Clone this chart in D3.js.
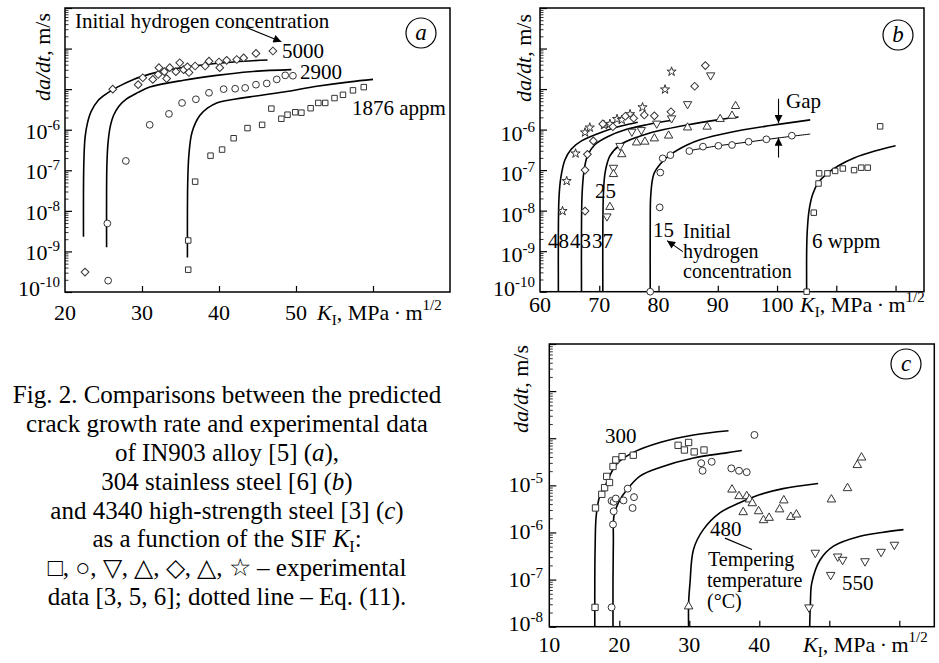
<!DOCTYPE html>
<html>
<head>
<meta charset="utf-8"/>
<title>Crack growth rate vs K_I</title>
<script src="https://d3js.org/d3.v7.min.js"></script>
<style>
body { margin:0; background:#fff; }
svg { font-family: "Liberation Serif", "Times New Roman", serif; }
</style>
</head>
<body>
<div id="fig"></div>
<script>
// every point: [K_I in MPa*m^1/2, log10 of da/dt in m/s]

// panel a - IN903, initial hydrogen concentration (appm)
var a5000Pts = [[22.6,-9.51],[26.2,-5.0],[29.5,-4.89],[30.1,-4.72],[31.4,-4.76],[32.1,-4.64],[32.2,-4.47],[32.9,-4.57],[33.2,-4.74],[33.6,-4.47],[34.4,-4.57],[34.9,-4.35],[35.4,-4.52],[35.9,-4.45],[36.1,-4.59],[36.9,-4.43],[38.2,-4.43],[38.7,-4.31],[40.0,-4.33],[40.1,-4.47],[41.0,-4.29],[42.3,-4.27],[43.2,-4.23],[44.8,-4.12],[47.0,-4.06]];
var a2900Pts = [[25.5,-8.31],[25.6,-9.72],[27.9,-6.77],[31.0,-5.88],[33.5,-5.61],[35.2,-5.34],[37.0,-5.25],[38.7,-5.09],[40.6,-5.00],[42.1,-4.99],[43.4,-4.97],[44.8,-4.89],[46.2,-4.86],[47.5,-4.76],[48.6,-4.66],[49.6,-4.67]];
var a1876Pts = [[36.0,-8.73],[36.0,-9.45],[36.9,-7.28],[38.9,-6.64],[40.4,-6.49],[41.9,-6.21],[43.7,-5.96],[45.6,-5.88],[46.8,-5.48],[48.1,-5.73],[48.9,-5.63],[49.9,-5.57],[50.7,-5.58],[51.9,-5.47],[52.9,-5.34],[53.8,-5.34],[55.0,-5.22],[56.1,-5.14],[57.4,-5.03],[58.8,-4.95]];
var a5000Fit = [[22.4,-8.64],[22.4,-7.5],[22.45,-6.8],[22.6,-6.2],[22.9,-5.85],[23.4,-5.55],[24.3,-5.28],[25.5,-5.1],[26.8,-4.95],[28.9,-4.76],[31,-4.63],[33.2,-4.53],[37.5,-4.41],[41.9,-4.33],[46.3,-4.28]];
var a2900Fit = [[25.4,-8.9],[25.4,-7.5],[25.45,-6.8],[25.6,-6.3],[25.9,-5.9],[26.3,-5.65],[27.0,-5.42],[28.0,-5.24],[29.5,-5.08],[31.0,-4.95],[35.4,-4.78],[39.7,-4.66],[44.0,-4.57],[49.4,-4.52]];
var a1876Fit = [[35.9,-9.15],[35.9,-8],[35.95,-7.2],[36.1,-6.6],[36.5,-6.06],[37.5,-5.65],[38.5,-5.47],[39.7,-5.34],[42,-5.25],[44,-5.19],[48.4,-5.07],[52.7,-4.93],[57,-4.82],[60,-4.76]];

// panel b - 304 stainless steel (wppm)
var b48Pts = [[63.8,-8.01],[64.5,-7.27],[66.0,-6.59],[67.6,-6.07],[68.4,-5.95],[70.8,-5.89],[71.8,-5.86],[73.0,-5.74],[73.8,-5.76],[75.2,-5.62],[77.3,-5.45],[81.1,-5.01],[82.2,-4.57]];
var b43Pts = [[67.6,-8.01],[67.6,-7.0],[68.0,-6.61],[69.0,-6.28],[70.6,-5.86],[72.3,-5.93],[74.4,-5.67],[75.8,-5.72],[77.6,-5.64],[79.3,-5.66],[82.1,-5.56],[86.1,-4.93],[87.9,-4.42]];
var b37Pts = [[71.3,-8.14],[72.4,-6.94],[73.5,-6.40],[75.5,-6.05],[77.1,-6.01],[79.7,-5.85],[82.2,-5.72],[84.9,-5.37],[88.8,-4.66]];
var b25Pts = [[71.8,-7.91],[72.4,-7.10],[73.8,-6.61],[76.3,-6.32],[77.7,-6.30],[79.3,-6.22],[81.7,-6.15],[84.9,-5.95],[88.2,-5.93],[90.4,-5.74],[92.4,-5.66],[93.0,-5.42]];
var b15Pts = [[78.6,-10],[80.2,-7.92],[80.3,-7.06],[80.7,-6.71],[82.0,-6.63],[85.2,-6.53],[87.5,-6.42],[90.1,-6.40],[92.4,-6.38],[95.2,-6.30],[98.2,-6.24],[102.5,-6.15]];
var b6Pts = [[105,-10],[106.2,-8.05],[107.0,-7.33],[107.1,-7.08],[108.5,-7.08],[109.8,-7.02],[111.1,-6.96],[113.0,-7.0],[114.2,-6.94],[115.3,-6.94],[117.4,-5.92]];
var b48Fit = [[63.1,-10],[63.1,-8.5],[63.2,-7.7],[63.5,-7.2],[64.2,-6.75],[65.3,-6.48],[67.0,-6.28],[70.5,-6.06],[73.5,-5.92],[76.5,-5.82]];
var b43Fit = [[67.0,-10],[67.0,-8.5],[67.1,-7.6],[67.4,-7.05],[68.0,-6.65],[69.2,-6.38],[71.5,-6.17],[74.5,-6.0],[78,-5.88],[82.3,-5.77]];
var b37Fit = [[70.6,-10],[70.6,-8.5],[70.7,-7.6],[71.0,-7.05],[71.8,-6.65],[73.5,-6.38],[76.5,-6.18],[80,-6.03],[85,-5.88],[90,-5.76],[93.5,-5.69]];
var b15Fit = [[78.6,-10],[78.6,-8.5],[78.7,-7.6],[79.2,-7.1],[80.3,-6.85],[82,-6.62],[84.8,-6.38],[87,-6.25],[92,-6.07],[98.9,-5.9],[105.6,-5.76]];
var b15Thin = [[85.2,-6.52],[90,-6.40],[95,-6.31],[100,-6.21],[105.6,-6.11]];
var b6Fit = [[105,-10],[105,-9],[105.1,-8.5],[105.4,-8],[106,-7.6],[107,-7.3],[108.5,-7.08],[110.5,-6.88],[113,-6.7],[116.5,-6.53],[120,-6.4]];

// panel c - 4340 steel, tempering temperature (C)
var c300SqPts = [[16.53,-7.59],[16.6,-5.48],[17.5,-5.19],[17.9,-5.05],[18.2,-4.81],[18.6,-4.94],[19.1,-4.60],[19.5,-4.46],[20.4,-4.39],[22.0,-4.36],[28.4,-4.15],[29.3,-4.25],[29.9,-4.09],[30.7,-4.29],[32.1,-4.25]];
var c300CiPts = [[18.9,-7.59],[19.1,-5.83],[19.2,-5.55],[18.9,-5.33],[19.2,-5.35],[19.5,-5.28],[20.6,-5.32],[21.2,-5.07],[21.9,-5.48],[22.1,-5.25],[31.7,-4.53],[31.9,-4.69],[33.2,-4.50],[36.0,-4.64],[37.1,-4.69],[38.2,-4.72],[39.3,-3.93]];
var c480Pts = [[29.9,-7.57],[36.1,-5.09],[37.1,-5.23],[37.7,-5.57],[38.2,-5.23],[38.6,-5.30],[39.0,-5.38],[39.9,-5.55],[40.6,-5.74],[41.4,-5.69],[42.9,-5.51],[43.5,-5.32],[44.5,-5.67],[45.3,-5.62],[50.3,-5.30],[52.6,-5.06],[54.0,-4.57],[54.6,-4.41]];
var c550Pts = [[47.1,-7.59],[48.0,-6.43],[50.2,-6.9],[51.2,-6.51],[51.9,-6.58],[55.1,-6.61],[57.4,-6.41],[59.3,-6.26]];
var c300Fit = [[16.5,-8],[16.5,-7],[16.55,-6.3],[16.7,-5.65],[17.2,-5.23],[18.2,-4.94],[19.6,-4.55],[22.0,-4.30],[25.8,-4.09],[30.6,-3.93],[35.6,-3.84]];
var c300bFit = [[19.1,-8],[19.1,-7],[19.15,-6.2],[19.24,-5.65],[19.86,-5.37],[21.1,-5.09],[23.0,-4.80],[25.8,-4.62],[30.6,-4.42],[35.3,-4.31],[37.5,-4.26]];
var c480Fit = [[29.9,-8],[29.9,-7.5],[30.1,-7.07],[30.6,-6.36],[32.0,-5.94],[34.4,-5.58],[37.2,-5.37],[40,-5.2],[43.4,-5.07],[48.4,-4.96]];
var c550Fit = [[47.2,-8],[47.3,-7.5],[47.5,-7.07],[48.7,-6.58],[50.6,-6.29],[54.4,-6.08],[57.5,-6.0],[60.6,-5.94]];

var captionLines = ["Fig. 2. Comparisons between the predicted", "crack growth rate and experimental data", "of IN903 alloy [5] (|a|),", "304 stainless steel [6] (|b|)", "and 4340 high-strength steel [3] (|c|)", "as a function of the SIF |K|_I:", "\u25a1, \u25cb, \u25bd, \u25b3, \u25c7, \u25b3, \u2606 \u2013 experimental", "data [3, 5, 6]; dotted line \u2013 Eq. (11)."];

var svg = d3.select('#fig').append('svg').attr('width', 939).attr('height', 663);
var defs = svg.append('defs');
defs.append('marker').attr('id', 'arr').attr('viewBox', '0 0 10 10').attr('refX', 10).attr('refY', 5)
	.attr('markerWidth', 10).attr('markerHeight', 8).attr('markerUnits', 'userSpaceOnUse').attr('orient', 'auto')
	.append('path').attr('d', 'M0,0L10,5L0,10z').attr('fill', '#000');

function panel(box, xDom, yDom) {
	var x = d3.scaleLinear().domain(xDom).range([box.l, box.r]);
	var y = d3.scaleLog().domain(yDom).range([box.b, box.t]);
	var g = svg.append('g');
	return {x: x, y: y, g: g, box: box};
}

function axes(p, xTicks, xLabels, labelBase, yLabels, yRight, yOff) {
	var g = p.g, x = p.x, y = p.y, b = p.box;
	g.append('g').attr('transform', 'translate(0,' + b.b + ')')
		.call(d3.axisBottom(x).tickValues(xTicks).tickSize(-6).tickFormat(''))
		.call(s => s.select('.domain').remove())
		.call(s => s.selectAll('line').attr('stroke', '#000').attr('stroke-width', 1.2));
	var all = y.ticks();
	var major = all.filter(v => Math.abs(Math.log10(v) - Math.round(Math.log10(v))) < 1e-6);
	var minor = all.filter(v => major.indexOf(v) < 0);
	g.append('g').attr('transform', 'translate(' + b.l + ',0)')
		.call(d3.axisLeft(y).tickValues(minor).tickSize(-3.5).tickFormat(''))
		.call(s => s.select('.domain').remove())
		.call(s => s.selectAll('line').attr('stroke', '#000').attr('stroke-width', 0.8));
	g.append('g').attr('transform', 'translate(' + b.l + ',0)')
		.call(d3.axisLeft(y).tickValues(major).tickSize(-7).tickFormat(''))
		.call(s => s.select('.domain').remove())
		.call(s => s.selectAll('line').attr('stroke', '#000').attr('stroke-width', 1.2));
	g.append('rect').attr('x', b.l).attr('y', b.t).attr('width', b.r - b.l).attr('height', b.b - b.t)
		.attr('fill', 'none').attr('stroke', '#000').attr('stroke-width', 1.5);
	xLabels.forEach(function(v) {
		g.append('text').attr('x', x(v)).attr('y', labelBase).attr('text-anchor', 'middle')
			.style('font-size', '22px').text(v);
	});
	yLabels.forEach(function(e, i) {
		var t = g.append('text').attr('x', yRight).attr('y', y(Math.pow(10, e)) + (i === 0 ? 4 : yOff))
			.attr('text-anchor', 'end').style('font-size', '22px');
		t.append('tspan').text('10');
		t.append('tspan').attr('dy', -9).style('font-size', '15px').text('-' + (-e));
	});
}

function kTitle(g, x0, y0) {
	var t = g.append('text').attr('x', x0).attr('y', y0).style('font-size', '22px');
	t.append('tspan').style('font-style', 'italic').text('K');
	t.append('tspan').attr('dy', 5).style('font-size', '15px').text('I');
	t.append('tspan').attr('dy', -5).text(', MPa\u2009\u00b7\u2009m');
	t.append('tspan').attr('dy', -10).style('font-size', '15px').text('1/2');
}

function yTitle(g, x0, y0) {
	var t = g.append('text').attr('transform', 'translate(' + x0 + ',' + y0 + ') rotate(-90)').style('font-size', '22px');
	t.append('tspan').style('font-style', 'italic').text('da/dt');
	t.append('tspan').text(', m/s');
}

function badge(g, cx, cy, letter) {
	g.append('circle').attr('cx', cx).attr('cy', cy).attr('r', 15).attr('fill', '#fff').attr('stroke', '#000').attr('stroke-width', 1.2);
	g.append('text').attr('x', cx).attr('y', cy + 7).attr('text-anchor', 'middle')
		.style('font-size', '23px').style('font-style', 'italic').text(letter);
}

function note(g, x0, y0, txt, fs) {
	g.append('text').attr('x', x0).attr('y', y0).style('font-size', (fs || 21) + 'px').text(txt);
}

var shapes = {square: d3.symbolSquare, circle: d3.symbolCircle, diamond: d3.symbolSquare,
	up: d3.symbolTriangle, down: d3.symbolTriangle, star: d3.symbolStar};

function dots(p, pts, kind, size) {
	p.g.append('g').selectAll('path').data(pts).enter().append('path')
		.attr('d', d3.symbol().type(shapes[kind]).size(size))
		.attr('transform', d => 'translate(' + p.x(d[0]) + ',' + p.y(Math.pow(10, d[1])) + ')' +
			(kind === 'down' ? ' rotate(180)' : '') + (kind === 'diamond' ? ' rotate(45)' : ''))
		.attr('fill', '#fff').attr('stroke', '#333').attr('stroke-width', 1);
}

function curve(p, pts, w) {
	var line = d3.line().x(d => p.x(d[0])).y(d => p.y(Math.pow(10, d[1]))).curve(d3.curveCatmullRom.alpha(0.5));
	p.g.append('path').datum(pts).attr('d', line).attr('fill', 'none').attr('stroke', '#000').attr('stroke-width', w || 1.6);
}

function arrow(p, from, to, head) {
	p.g.append('line').attr('x1', p.x(from[0])).attr('y1', p.y(Math.pow(10, from[1])))
		.attr('x2', p.x(to[0])).attr('y2', p.y(Math.pow(10, to[1])))
		.attr('stroke', '#000').attr('stroke-width', 1.1).attr('marker-end', head ? 'url(#arr)' : null);
}

// ---- panel a
var pa = panel({l: 65, t: 8, r: 450, b: 292}, [20, 70], [1e-10, 1e-3]);
axes(pa, [30, 40, 50, 60], [20, 30, 40, 50], 320, [-10, -9, -8, -7, -6], 60, 9);
curve(pa, a5000Fit); curve(pa, a2900Fit); curve(pa, a1876Fit);
dots(pa, a5000Pts, 'diamond', 30);
dots(pa, a2900Pts, 'circle', 36);
dots(pa, a1876Pts, 'square', 30);
note(pa.g, 75, 28, 'Initial hydrogen concentration');
arrow(pa, [43.4, -3.47], [48.1, -3.83], true);
note(pa.g, 282, 58, '5000');
note(pa.g, 300, 79, '2900');
note(pa.g, 352, 115, '1876 appm');
badge(pa.g, 421, 33, 'a');
kTitle(pa.g, 317, 320);
yTitle(pa.g, 50, 101);

// ---- panel b
var pb = panel({l: 540, t: 8, r: 924, b: 291.7}, [60, 124.8], [1e-10, 1e-3]);
axes(pb, [70, 80, 90, 100, 110, 120], [60, 70, 80, 90, 100], 312, [-10, -9, -8, -7, -6], 535, 11);
curve(pb, b48Fit); curve(pb, b43Fit); curve(pb, b37Fit); curve(pb, b15Fit); curve(pb, b6Fit);
curve(pb, b15Thin, 1);
dots(pb, b48Pts, 'star', 26);
dots(pb, b43Pts, 'diamond', 30);
dots(pb, b37Pts, 'down', 30);
dots(pb, b25Pts, 'up', 30);
dots(pb, b15Pts, 'circle', 36);
dots(pb, b6Pts, 'square', 30);
note(pb.g, 548, 248, '48');
note(pb.g, 570, 248, '43');
note(pb.g, 592, 248, '37');
note(pb.g, 595, 198, '25');
note(pb.g, 653, 237, '15');
note(pb.g, 683, 238, 'Initial', 20);
note(pb.g, 683, 258, 'hydrogen', 20);
note(pb.g, 683, 278, 'concentration', 20);
arrow(pb, [84.1, -9.01], [81.45, -8.74], true);
note(pb.g, 812, 248, '6 wppm');
note(pb.g, 786, 108, 'Gap');
arrow(pb, [100.25, -5.24], [100.25, -5.84], true);
arrow(pb, [100.25, -6.69], [100.25, -6.2], true);
badge(pb.g, 898, 35, 'b');
kTitle(pb.g, 800, 312);
yTitle(pb.g, 531, 102);

// ---- panel c
var pc = panel({l: 549.3, t: 344, r: 934.3, b: 626.7}, [10, 65], [1e-8, 1e-2]);
axes(pc, [20, 30, 40, 50, 60], [10, 20, 30, 40], 652, [-8, -7, -6, -5], 543, 7);
curve(pc, c300Fit); curve(pc, c300bFit); curve(pc, c480Fit); curve(pc, c550Fit);
dots(pc, c300SqPts, 'square', 40);
dots(pc, c300CiPts, 'circle', 38);
dots(pc, c480Pts, 'up', 32);
dots(pc, c550Pts, 'down', 32);
note(pc.g, 605, 443, '300');
note(pc.g, 710, 536, '480');
arrow(pc, [35.1, -6.12], [38.96, -6.36], false);
note(pc.g, 708, 566, 'Tempering', 20);
note(pc.g, 707, 587, 'temperature', 20);
note(pc.g, 707, 608, '(\u00b0C)', 20);
note(pc.g, 842, 590, '550');
badge(pc.g, 906, 364, 'c');
kTitle(pc.g, 803, 652);
yTitle(pc.g, 528, 433);

// ---- caption
captionLines.forEach(function(line, i) {
	var t = svg.append('text').attr('x', 227).attr('y', 403.3 + i * 28.8).attr('text-anchor', 'middle').style('font-size', '25px');
	line.split('|').forEach(function(part, j) {
		if (j % 2 === 1) { t.append('tspan').style('font-style', 'italic').text(part); return; }
		if (part.indexOf('_I') === 0) {
			t.append('tspan').attr('dy', 5).style('font-size', '16px').text('I');
			t.append('tspan').attr('dy', -5).text(part.slice(2));
		} else if (part) {
			t.append('tspan').text(part);
		}
	});
});
</script>
</body>
</html>
